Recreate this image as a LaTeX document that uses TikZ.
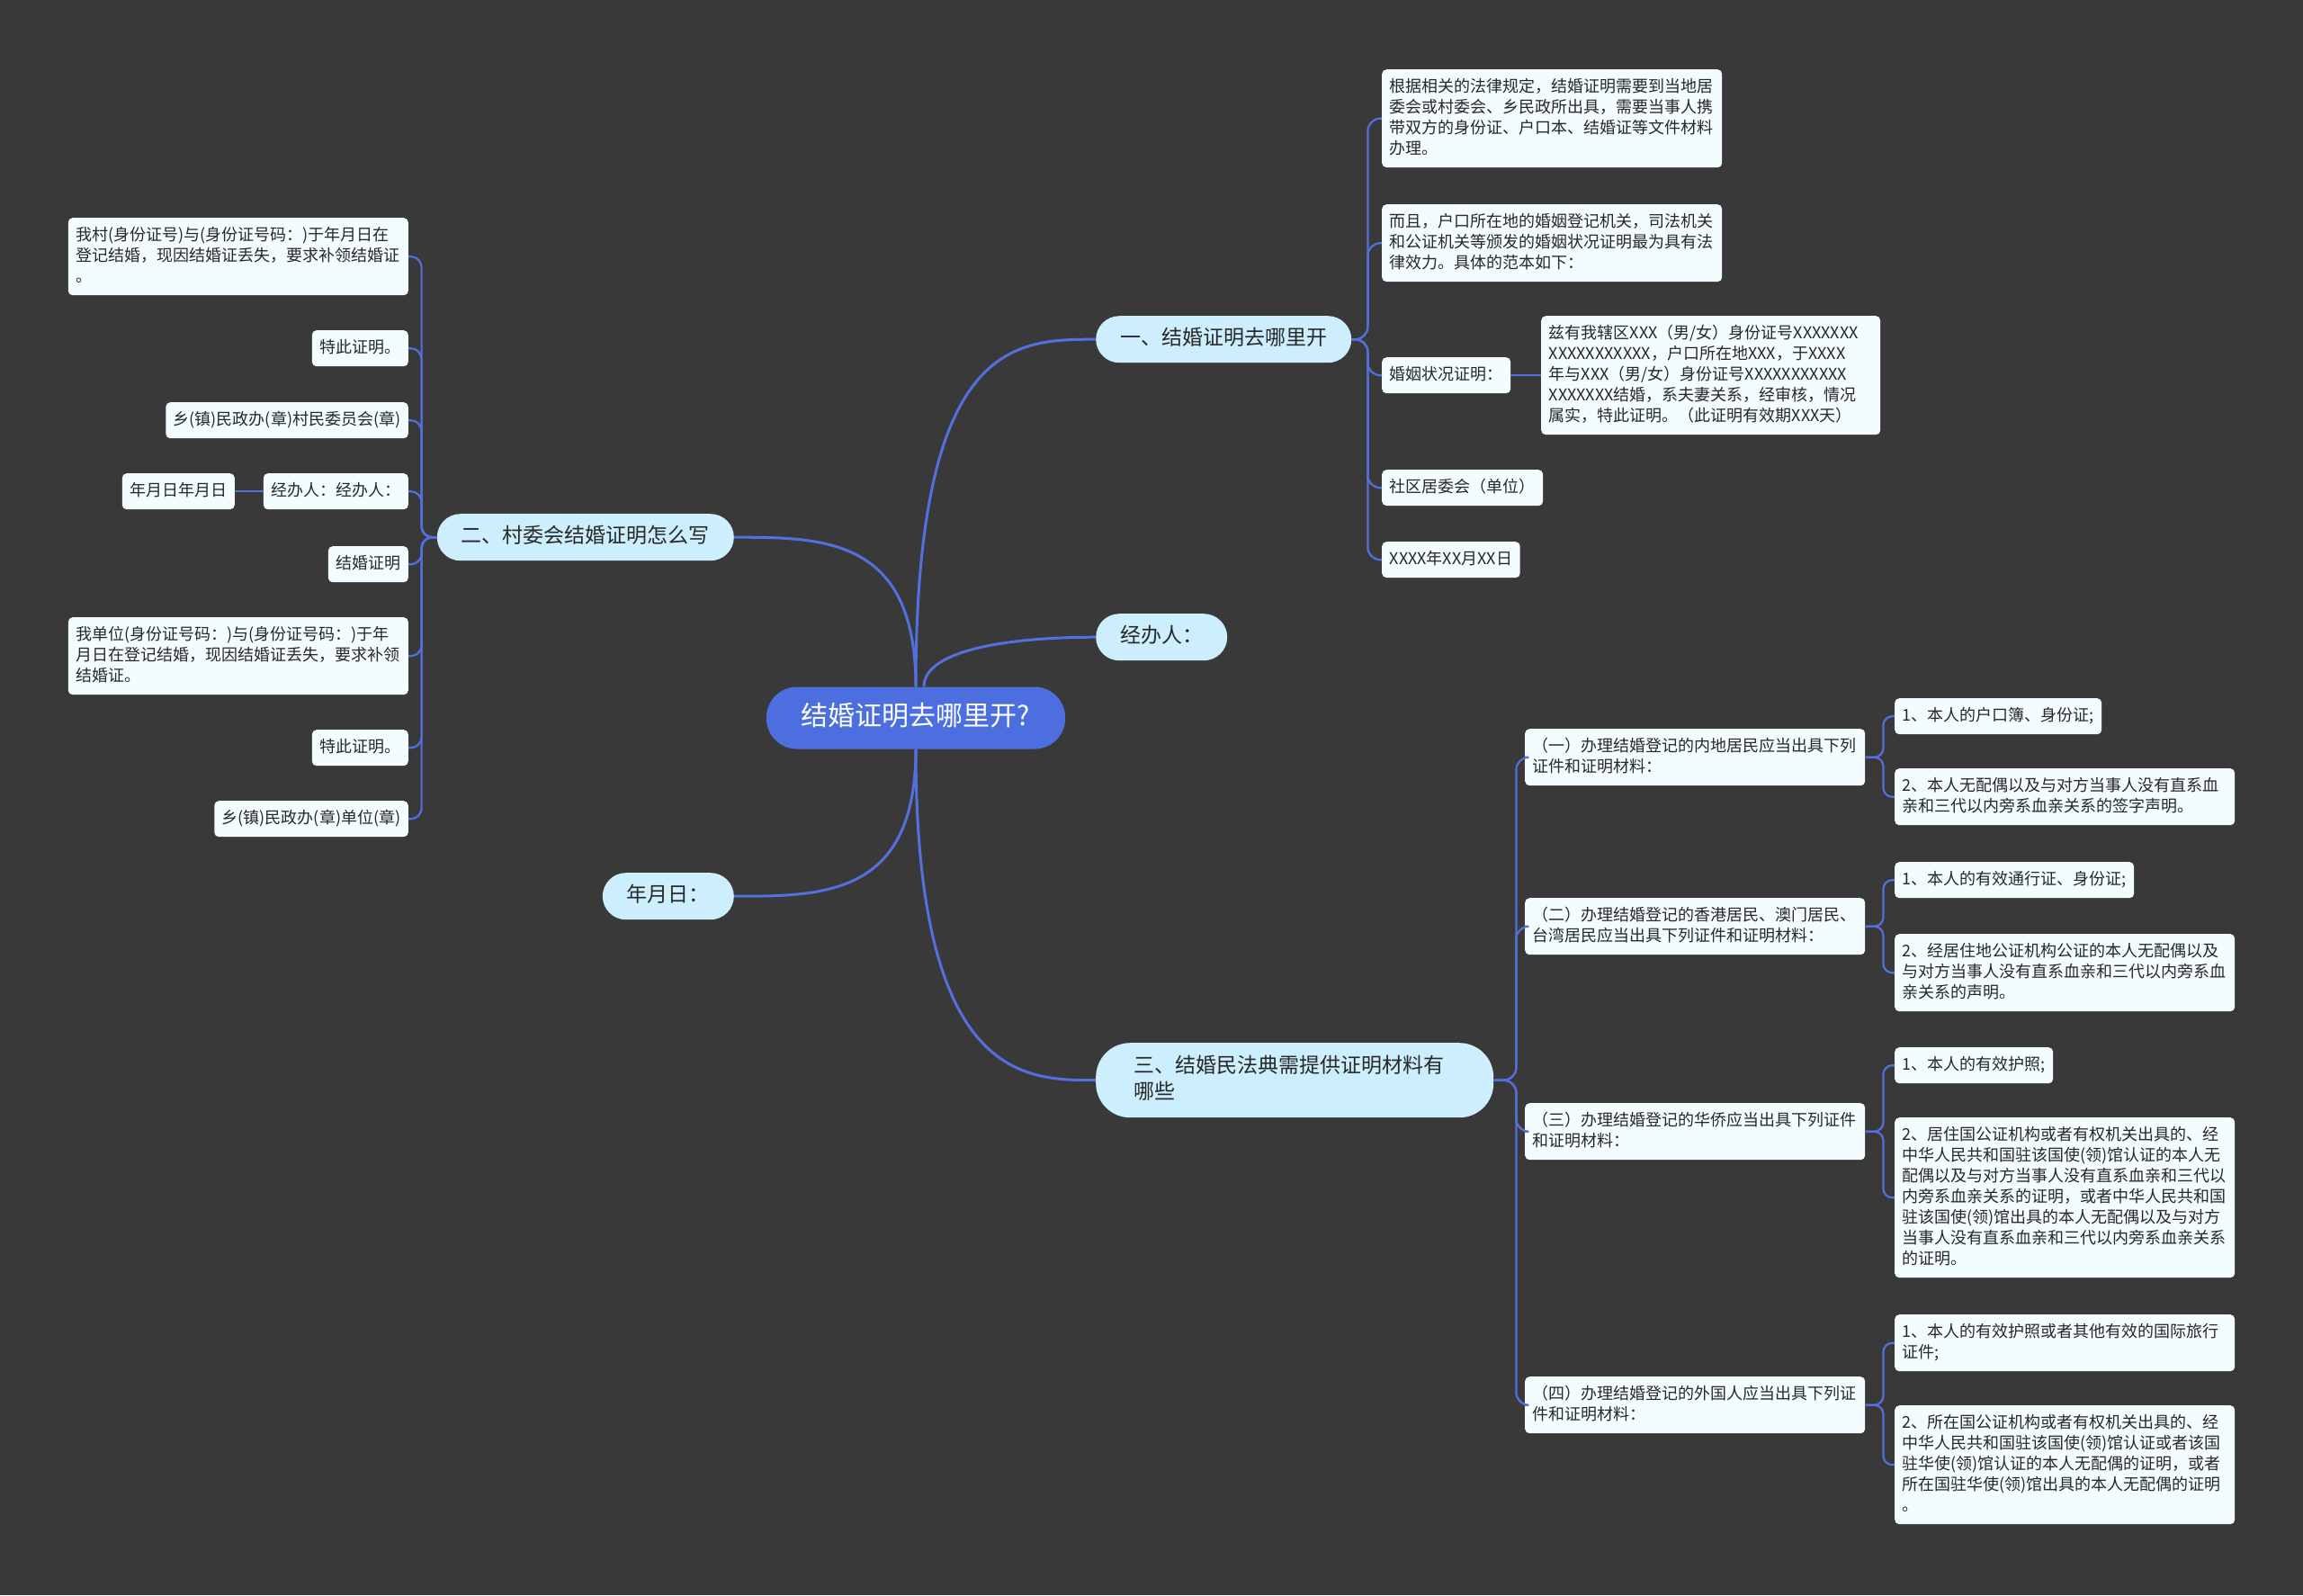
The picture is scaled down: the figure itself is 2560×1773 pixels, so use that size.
\documentclass[tikz,border=0pt]{standalone}
\usepackage{fontspec}
\setmainfont{Noto Sans CJK SC}
\usetikzlibrary{calc}
\definecolor{bgc}{RGB}{58,57,58}
\definecolor{leafc}{RGB}{243,252,255}
\definecolor{mainc}{RGB}{204,238,253}
\definecolor{rootc}{RGB}{76,110,222}
\definecolor{linkc}{RGB}{84,112,220}
\definecolor{txtc}{RGB}{40,40,40}
\newcommand\mystA{\rule[-6.5pt]{0pt}{23pt}}
\newcommand\mystB{\rule[-8.5pt]{0pt}{29pt}}
\newcommand\mystC{\rule[-10pt]{0pt}{36pt}}
\begin{document}
\begin{tikzpicture}[x=1pt,y=-1pt,
  leaf/.style={fill=leafc, text=txtc, rounded corners=5pt, inner xsep=8.5pt, inner ysep=8.5pt,
    font=\fontsize{18}{23}\selectfont, execute at begin node=\mystA, execute at end node=\mystA},
  leafw/.style={leaf, text width=#1, align=left},
  mainnode/.style={fill=mainc, text=txtc, rounded corners=26pt, inner xsep=27pt, inner ysep=11.5pt,
    font=\fontsize{23}{29}\selectfont, execute at begin node=\mystB, execute at end node=\mystB},
  rootnode/.style={fill=rootc, text=white, rounded corners=34pt, inner xsep=39pt, inner ysep=16.5pt,
    font=\fontsize{30}{36}\selectfont, execute at begin node=\mystC, execute at end node=\mystC},
  link/.style={draw=linkc, line width=2.2pt, rounded corners=14pt},
  sublink/.style={draw=linkc, line width=2.2pt, rounded corners=10pt},
  rootlink/.style={draw=linkc, line width=3pt}
]
\fill[bgc] (0,0) rectangle (2560,1773);
\useasboundingbox (0,0) rectangle (2560,1773);

% root
\node[rootnode] (ctr) at (1018,798) {结婚证明去哪里开?};

% main branches
\node[mainnode, anchor=north west] (n1) at (1218,351) {一、结婚证明去哪里开};
\node[mainnode, anchor=north west] (n4) at (1218,682) {经办人：};
\node[mainnode, anchor=north west, text width=358pt, align=left, inner xsep=42pt, inner ysep=12.5pt, rounded corners=38pt] (n3) at (1218,1159) {三、结婚民法典需提供证明材料有\\哪些};
\node[mainnode, anchor=north east] (n2) at (816,571) {二、村委会结婚证明怎么写};
\node[mainnode, anchor=north east] (n5) at (816,970) {年月日：};

% branch 1 leaves
\node[leafw=361pt, anchor=north west] (a1) at (1536,77) {根据相关的法律规定，结婚证明需要到当地居\\委会或村委会、乡民政所出具，需要当事人携\\带双方的身份证、户口本、结婚证等文件材料\\办理。};
\node[leafw=361pt, anchor=north west] (a2) at (1536,227) {而且，户口所在地的婚姻登记机关，司法机关\\和公证机关等颁发的婚姻状况证明最为具有法\\律效力。具体的范本如下：};
\node[leaf, anchor=north west] (a3) at (1536,397) {婚姻状况证明：};
\node[leafw=360pt, anchor=north west] (a3a) at (1713,351) {兹有我辖区XXX（男/女）身份证号XXXXXXX\\XXXXXXXXXXX，户口所在地XXX，于XXXX\\年与XXX（男/女）身份证号XXXXXXXXXXX\\XXXXXXX结婚，系夫妻关系，经审核，情况\\属实，特此证明。（此证明有效期XXX天）};
\node[leaf, anchor=north west] (a4) at (1536,522) {社区居委会（单位）};
\node[leaf, anchor=north west] (a5) at (1536,602) {XXXX年XX月XX日};

% branch 3 children
\node[leafw=361pt, anchor=north west] (c1) at (1695,810) {（一）办理结婚登记的内地居民应当出具下列\\证件和证明材料：};
\node[leafw=361pt, anchor=north west] (c2) at (1695,998) {（二）办理结婚登记的香港居民、澳门居民、\\台湾居民应当出具下列证件和证明材料：};
\node[leafw=361pt, anchor=north west] (c3) at (1695,1226) {（三）办理结婚登记的华侨应当出具下列证件\\和证明材料：};
\node[leafw=361pt, anchor=north west] (c4) at (1695,1530) {（四）办理结婚登记的外国人应当出具下列证\\件和证明材料：};

\node[leaf, anchor=north west] (c1a) at (2106,776) {1、本人的户口簿、身份证;};
\node[leafw=361pt, anchor=north west] (c1b) at (2106,854) {2、本人无配偶以及与对方当事人没有直系血\\亲和三代以内旁系血亲关系的签字声明。};
\node[leaf, anchor=north west] (c2a) at (2106,958) {1、本人的有效通行证、身份证;};
\node[leafw=361pt, anchor=north west] (c2b) at (2106,1038) {2、经居住地公证机构公证的本人无配偶以及\\与对方当事人没有直系血亲和三代以内旁系血\\亲关系的声明。};
\node[leaf, anchor=north west] (c3a) at (2106,1164) {1、本人的有效护照;};
\node[leafw=361pt, anchor=north west] (c3b) at (2106,1242) {2、居住国公证机构或者有权机关出具的、经\\中华人民共和国驻该国使(领)馆认证的本人无\\配偶以及与对方当事人没有直系血亲和三代以\\内旁系血亲关系的证明，或者中华人民共和国\\驻该国使(领)馆出具的本人无配偶以及与对方\\当事人没有直系血亲和三代以内旁系血亲关系\\的证明。};
\node[leafw=361pt, anchor=north west] (c4a) at (2106,1461) {1、本人的有效护照或者其他有效的国际旅行\\证件;};
\node[leafw=361pt, anchor=north west] (c4b) at (2106,1562) {2、所在国公证机构或者有权机关出具的、经\\中华人民共和国驻该国使(领)馆认证或者该国\\驻华使(领)馆认证的本人无配偶的证明，或者\\所在国驻华使(领)馆出具的本人无配偶的证明\\。};

% branch 2 leaves
\node[leafw=361pt, anchor=north east] (b1) at (454,242) {我村(身份证号)与(身份证号码：)于年月日在\\登记结婚，现因结婚证丢失，要求补领结婚证\\。};
\node[leaf, anchor=north east] (b2) at (454,367) {特此证明。};
\node[leaf, anchor=north east] (b3) at (454,447) {乡(镇)民政办(章)村民委员会(章)};
\node[leaf, anchor=north east] (b4) at (454,526) {经办人：经办人：};
\node[leaf, anchor=north east] (b4a) at (261,526) {年月日年月日};
\node[leaf, anchor=north east] (b5) at (454,607) {结婚证明};
\node[leafw=361pt, anchor=north east] (b6) at (454,686) {我单位(身份证号码：)与(身份证号码：)于年\\月日在登记结婚，现因结婚证丢失，要求补领\\结婚证。};
\node[leaf, anchor=north east] (b7) at (454,811) {特此证明。};
\node[leaf, anchor=north east] (b8) at (454,890) {乡(镇)民政办(章)单位(章)};

% root connectors
\draw[rootlink] (ctr.north) .. controls (ctr.north |- n1.west) and ($(n1.west)+(-90,0)$) .. (n1.west);
\draw[rootlink] ($(ctr.north)+(9,0)$) .. controls ($(ctr.north)+(9,-40)$) and ($(n4.west)+(-100,0)$) .. (n4.west);
\draw[rootlink] (ctr.south) .. controls (ctr.south |- n3.west) and ($(n3.west)+(-80,0)$) .. (n3.west);
\draw[rootlink] (ctr.north) .. controls (ctr.north |- n2.east) and ($(n2.east)+(100,0)$) .. (n2.east);
\draw[rootlink] (ctr.south) .. controls (ctr.south |- n5.east) and ($(n5.east)+(100,0)$) .. (n5.east);

% branch 1 connectors
\foreach \c in {a1,a2,a3,a4,a5}
  \draw[link] (n1.east) -- ++(18,0) |- (\c.west);
\draw[link] (a3.east) -- (a3a.west);

% branch 3 connectors
\foreach \c in {c1,c2,c3,c4}
  \draw[link] (n3.east) -- ++(25,0) |- (\c.west);
\foreach \p in {c1,c2,c3,c4} {
  \draw[sublink] (\p.east) -- ++(20,0) |- (\p a.west);
  \draw[sublink] (\p.east) -- ++(20,0) |- (\p b.west);
}

% branch 2 connectors
\foreach \c in {b1,b2,b3,b4,b5,b6,b7,b8}
  \draw[link, rounded corners=12pt] (n2.west) -- ++(-17,0) |- (\c.east);
\draw[link] (b4.west) -- (b4a.east);
\end{tikzpicture}
\end{document}
